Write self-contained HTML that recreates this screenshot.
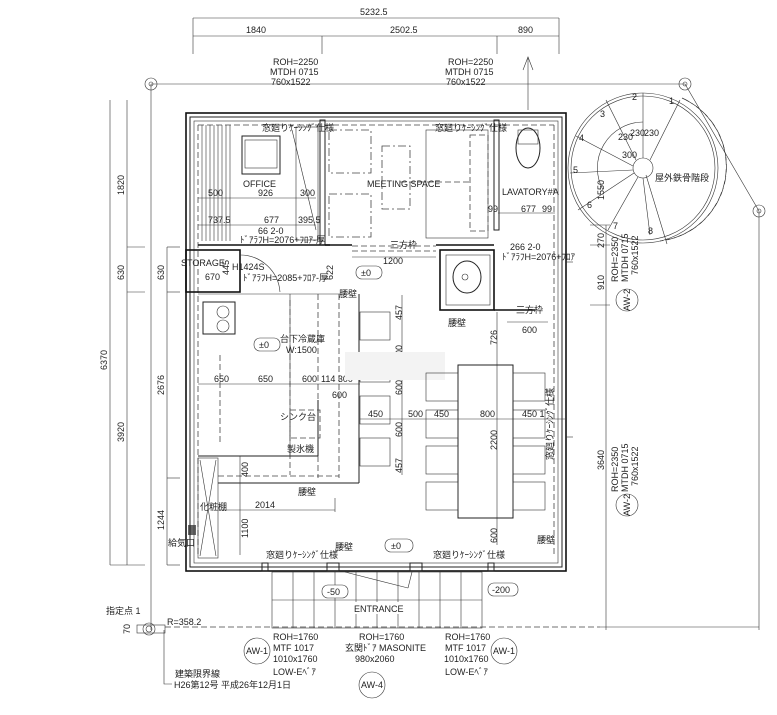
<!DOCTYPE html>
<html><head><meta charset="utf-8"><style>
html,body{margin:0;padding:0;background:#fff;}
svg{display:block;font-family:"Liberation Sans","Noto Sans CJK JP",sans-serif;}
text{fill:#222;font-size:9px;}
.l{stroke:#222;stroke-width:1;fill:none}
.t{stroke:#333;stroke-width:0.6;fill:none}
.w{stroke:#111;stroke-width:1.6;fill:none}
.d{stroke:#444;stroke-width:0.8;fill:none;stroke-dasharray:6 3}
.dd{stroke:#444;stroke-width:0.8;fill:none;stroke-dasharray:8 3 2 3}
</style></head><body>
<svg width="777" height="715" viewBox="0 0 777 715" xmlns="http://www.w3.org/2000/svg">
<!-- top dims -->
<line class="t" x1="193" y1="18" x2="559" y2="18"/>
<line class="t" x1="193" y1="36" x2="559" y2="36"/>
<line class="t" x1="193" y1="18" x2="193" y2="54"/><line class="t" x1="559" y1="18" x2="559" y2="54"/>
<line class="t" x1="322" y1="36" x2="322" y2="54"/><line class="t" x1="497" y1="36" x2="497" y2="54"/>
<text x="360" y="15">5232.5</text>
<text x="246" y="33">1840</text><text x="390" y="33">2502.5</text><text x="518" y="33">890</text>
<text x="273" y="65" font-size="8">ROH=2250</text><text x="270" y="75" font-size="8">MTDH 0715</text><text x="271" y="85" font-size="8">760x1522</text>
<text x="448" y="65" font-size="8">ROH=2250</text><text x="445" y="75" font-size="8">MTDH 0715</text><text x="446" y="85" font-size="8">760x1522</text>
<line class="t" x1="528" y1="57" x2="528" y2="110"/><polyline class="t" points="523,70 528,57 533,70"/>
<!-- property lines -->
<line class="t" x1="151" y1="84" x2="685" y2="84"/>
<line class="t" x1="151" y1="84" x2="151" y2="630"/>
<line class="t" x1="685" y1="84" x2="759" y2="211"/>
<line class="t" x1="759" y1="211" x2="759" y2="630"/>
<circle class="t" cx="151" cy="84" r="6"/><circle class="t" cx="151" cy="84" r="2"/>
<circle class="t" cx="685" cy="84" r="6"/><circle class="t" cx="685" cy="84" r="2"/>
<circle class="t" cx="759" cy="211" r="6"/><circle class="t" cx="759" cy="211" r="2"/>
<!-- left dims -->
<line class="t" x1="110" y1="100" x2="110" y2="565"/><line class="t" x1="127" y1="100" x2="127" y2="565"/>
<line class="t" x1="110" y1="565" x2="145" y2="565"/>
<line class="t" x1="127" y1="247" x2="145" y2="247"/><line class="t" x1="127" y1="292" x2="145" y2="292"/>
<line class="t" x1="167" y1="247" x2="167" y2="565"/>
<line class="t" x1="167" y1="247" x2="180" y2="247"/><line class="t" x1="167" y1="292" x2="180" y2="292"/><line class="t" x1="167" y1="478" x2="180" y2="478"/><line class="t" x1="167" y1="565" x2="180" y2="565"/>
<g font-size="9">
<text transform="translate(124,195) rotate(-90)">1820</text>
<text transform="translate(124,280) rotate(-90)">630</text>
<text transform="translate(124,442) rotate(-90)">3920</text>
<text transform="translate(107,370) rotate(-90)">6370</text>
<text transform="translate(164,280) rotate(-90)">630</text>
<text transform="translate(164,395) rotate(-90)">2676</text>
<text transform="translate(164,530) rotate(-90)">1244</text>
</g>
<text x="168" y="546" font-size="10">給気口</text>
<rect x="188" y="525" width="8" height="10" fill="#666"/>
<!-- outer walls -->
<rect class="w" x="186" y="113" width="380" height="458"/>
<rect class="l" x="190" y="117" width="372" height="450"/>
<rect class="t" x="194" y="121" width="364" height="442"/>
<line class="d" x1="198" y1="125" x2="554" y2="125"/>
<line class="d" x1="198" y1="125" x2="198" y2="555"/>
<line class="d" x1="554" y1="125" x2="554" y2="555"/>
<!-- interior walls -->
<rect class="l" x="320" y="120" width="5" height="125"/>
<rect class="l" x="494" y="120" width="5" height="110"/>
<line class="w" x1="198" y1="245" x2="330" y2="245"/>
<line class="w" x1="325" y1="245" x2="352" y2="245"/>
<line class="w" x1="436" y1="245" x2="494" y2="245"/>
<line class="d" x1="352" y1="246" x2="436" y2="246"/>
<line class="d" x1="352" y1="251" x2="436" y2="251"/>
<!-- office -->
<g class="t">
<line x1="202" y1="125" x2="202" y2="241"/><line x1="206" y1="125" x2="206" y2="241"/><line x1="210" y1="125" x2="210" y2="241"/><line x1="214" y1="125" x2="214" y2="241"/><line x1="218" y1="125" x2="218" y2="241"/><line x1="222" y1="125" x2="222" y2="241"/><line x1="226" y1="125" x2="226" y2="241"/><line x1="230" y1="125" x2="230" y2="241"/>
</g>
<rect class="l" x="242" y="136" width="38" height="38"/><rect class="t" x="245" y="140" width="32" height="28"/>
<text x="243" y="187" font-size="10">OFFICE</text>
<line class="t" x1="292" y1="130" x2="316" y2="230"/><rect class="t" x="296" y="127" width="22" height="113"/>
<line class="t" x1="198" y1="198" x2="316" y2="198"/><line class="t" x1="198" y1="225" x2="316" y2="225"/>
<text x="208" y="196" font-size="8">500</text><text x="258" y="196" font-size="8">926</text><text x="300" y="196" font-size="8">300</text>
<text x="208" y="223" font-size="8">737.5</text><text x="264" y="223" font-size="8">677</text><text x="298" y="223" font-size="8">395.5</text>
<text x="258" y="234" font-size="8">66 2-0</text><text x="240" y="243" font-size="7">ﾄﾞｱﾗﾌH=2076+ﾌﾛｱ-厚</text>
<text x="262" y="131" font-size="7">窓廻りｹｰｼﾝｸﾞ仕様</text>
<!-- meeting -->
<rect class="dd" x="329" y="130" width="42" height="43"/><rect class="dd" x="329" y="194" width="42" height="43"/>
<rect class="dd" x="382" y="146" width="28" height="63"/>
<rect class="t" x="426" y="130" width="62" height="108"/><rect class="d" x="470" y="135" width="18" height="96"/>
<line class="d" x1="400" y1="182" x2="470" y2="182"/>
<text x="367" y="187" font-size="10">MEETING SPACE</text>
<text x="435" y="131" font-size="7">窓廻りｹｰｼﾝｸﾞ仕様</text>
<!-- lavatory -->
<ellipse class="l" cx="528" cy="148" rx="12" ry="20"/><rect class="t" x="518" y="130" width="20" height="14"/>
<text x="502" y="195" font-size="10">LAVATORY#A</text>
<line class="t" x1="498" y1="213" x2="555" y2="213"/>
<text x="488" y="212" font-size="8">99</text><text x="521" y="212" font-size="8">677</text><text x="542" y="212" font-size="8">99</text>
<text x="510" y="250" font-size="8">266 2-0</text><text x="502" y="260" font-size="7">ﾄﾞｱﾗﾌH=2076+ﾌﾛｱ</text>
<!-- washroom -->
<rect class="w" x="440" y="250" width="54" height="60"/>
<rect class="t" x="446" y="255" width="44" height="50"/>
<ellipse class="l" cx="467" cy="277" rx="14" ry="16"/><circle class="t" cx="465" cy="277" r="3"/>
<line class="w" x1="494" y1="310" x2="535" y2="310"/>
<text x="516" y="313" font-size="7">三方枠</text>
<line class="t" x1="507" y1="322" x2="548" y2="322"/><text x="522" y="333" font-size="8">600</text>
<text x="448" y="326" font-size="7">腰壁</text>
<text x="390" y="248" font-size="7">三方枠</text>
<line class="t" x1="352" y1="257" x2="436" y2="257"/><text x="383" y="264" font-size="8">1200</text>
<!-- storage -->
<rect class="w" x="186" y="250" width="54" height="42"/>
<text x="181" y="266" font-size="10">STORAGE</text><text x="205" y="280" font-size="8">670</text>
<text transform="translate(229,275) rotate(-90)" font-size="8">445</text>
<text x="232" y="270" font-size="8">H1424S</text>
<text x="243" y="281" font-size="7">ﾄﾞｱﾗﾌH=2085+ﾌﾛｱ-厚</text>
<path class="t" d="M240 255 A40 40 0 0 1 280 292"/>
<text transform="translate(333,280) rotate(-90)" font-size="8">622</text>
<rect class="t" x="356" y="266" width="26" height="13" rx="6"/><text x="361" y="276" font-size="8">±0</text>
<!-- kitchen -->
<rect class="l" x="203" y="302" width="32" height="32"/>
<circle class="t" cx="223" cy="312" r="6"/><circle class="t" cx="223" cy="326" r="6"/>
<line class="t" x1="198" y1="294" x2="340" y2="294"/>
<line class="t" x1="290" y1="294" x2="290" y2="455"/>
<line class="d" x1="290" y1="300" x2="290" y2="475"/><line class="d" x1="339" y1="294" x2="339" y2="478"/><line class="d" x1="318" y1="294" x2="318" y2="478"/>
<line class="l" x1="359" y1="294" x2="359" y2="483"/>
<line class="l" x1="198" y1="456" x2="318" y2="456"/><line class="l" x1="318" y1="400" x2="318" y2="456"/>
<line class="l" x1="218" y1="483" x2="359" y2="483"/>
<line class="d" x1="218" y1="476" x2="339" y2="476"/>
<line class="d" x1="220" y1="355" x2="220" y2="445"/>
<line class="t" x1="198" y1="384" x2="360" y2="384"/>
<text x="214" y="382" font-size="8">650</text><text x="258" y="382" font-size="8">650</text><text x="302" y="382" font-size="8">600</text><text x="321" y="382" font-size="8">114 300</text>
<text x="332" y="398" font-size="8">600</text>
<rect class="t" x="254" y="338" width="26" height="13" rx="6"/><text x="259" y="348" font-size="8">±0</text>
<text x="280" y="342" font-size="9">台下冷蔵庫</text><text x="286" y="353" font-size="9">W:1500</text>
<rect class="d" x="290" y="410" width="30" height="28"/>
<text x="280" y="420" font-size="10">シンク台</text>
<text x="287" y="452" font-size="9">製氷機</text>
<rect class="t" x="198" y="458" width="20" height="100"/><line class="t" x1="200" y1="460" x2="216" y2="556"/><line class="t" x1="216" y1="460" x2="200" y2="556"/>
<line class="t" x1="240" y1="456" x2="240" y2="555"/>
<text transform="translate(248,477) rotate(-90)" font-size="8">400</text>
<text transform="translate(248,538) rotate(-90)" font-size="8">1100</text>
<line class="t" x1="218" y1="510" x2="335" y2="510"/><line class="t" x1="335" y1="498" x2="335" y2="512"/>
<text x="255" y="508" font-size="8">2014</text><text x="200" y="510" font-size="6">化粧棚</text>
<text x="298" y="495" font-size="7">腰壁</text><text x="339" y="297" font-size="7">腰壁</text>
<!-- counter chairs -->
<rect class="t" x="360" y="312" width="30" height="28"/><rect class="t" x="360" y="354" width="30" height="28"/><rect class="t" x="360" y="396" width="30" height="28"/><rect class="t" x="360" y="438" width="30" height="28"/>
<line class="t" x1="402" y1="295" x2="402" y2="475"/>
<g font-size="8"><text transform="translate(402,320) rotate(-90)">457</text><text transform="translate(402,360) rotate(-90)">600</text><text transform="translate(402,395) rotate(-90)">600</text><text transform="translate(402,437) rotate(-90)">600</text><text transform="translate(402,473) rotate(-90)">457</text></g>
<rect x="345" y="352" width="100" height="28" fill="#f3f3f3"/>
<!-- dining -->
<line class="t" x1="497" y1="312" x2="497" y2="545"/>
<rect class="l" x="458" y="365" width="55" height="153"/>
<rect class="t" x="426" y="373" width="32" height="28"/><rect class="t" x="426" y="410" width="32" height="28"/><rect class="t" x="426" y="446" width="32" height="28"/><rect class="t" x="426" y="482" width="32" height="28"/>
<rect class="t" x="513" y="373" width="32" height="28"/><rect class="t" x="513" y="410" width="32" height="28"/><rect class="t" x="513" y="446" width="32" height="28"/><rect class="t" x="513" y="482" width="32" height="28"/>
<line class="t" x1="360" y1="419" x2="565" y2="419"/>
<text x="368" y="417" font-size="8">450</text><text x="408" y="417" font-size="8">500</text><text x="434" y="417" font-size="8">450</text><text x="480" y="417" font-size="8">800</text><text x="522" y="417" font-size="8">450 1</text>
<g font-size="8"><text transform="translate(497,345) rotate(-90)">726</text><text transform="translate(497,450) rotate(-90)">2200</text><text transform="translate(497,543) rotate(-90)">600</text></g>
<rect class="t" x="385" y="539" width="28" height="13" rx="6"/><text x="391" y="549" font-size="8">±0</text>
<text x="537" y="543" font-size="7">腰壁</text>
<text x="266" y="558" font-size="7">窓廻りｹｰｼﾝｸﾞ仕様</text><text x="335" y="550" font-size="7">腰壁</text>
<text x="433" y="558" font-size="7">窓廻りｹｰｼﾝｸﾞ仕様</text>
<text transform="translate(553,460) rotate(-90)" font-size="6">窓廻りｹｰｼﾝｸﾞ仕様</text>
<!-- bottom windows / entrance -->
<rect class="l" x="262" y="563" width="6" height="8"/><rect class="l" x="327" y="563" width="12" height="8"/><rect class="l" x="410" y="563" width="12" height="8"/><rect class="l" x="488" y="563" width="6" height="8"/>
<g class="t">
<rect x="272" y="572" width="210" height="56"/>
<line x1="272" y1="600" x2="482" y2="600"/>
<line x1="314" y1="572" x2="314" y2="628"/><line x1="356" y1="572" x2="356" y2="628"/><line x1="398" y1="572" x2="398" y2="628"/><line x1="440" y1="572" x2="440" y2="628"/>
<line x1="293" y1="572" x2="293" y2="628"/><line x1="335" y1="572" x2="335" y2="628"/><line x1="377" y1="572" x2="377" y2="628"/><line x1="419" y1="572" x2="419" y2="628"/><line x1="461" y1="572" x2="461" y2="628"/>
<line x1="345" y1="572" x2="408" y2="588"/><line x1="408" y1="588" x2="412" y2="572"/>
</g>
<rect x="322" y="585" width="26" height="13" rx="6" fill="#fff" stroke="#333" stroke-width="0.6"/><text x="327" y="595" font-size="8">-50</text>
<rect x="488" y="583" width="30" height="13" rx="6" fill="#fff" stroke="#333" stroke-width="0.6"/><text x="492" y="593" font-size="8">-200</text>
<rect x="355" y="602" width="44" height="12" fill="#fff"/><text x="354" y="612" font-size="10">ENTRANCE</text>
<line class="d" x1="165" y1="627" x2="600" y2="627"/>
<line class="t" x1="600" y1="627" x2="759" y2="627"/>
<circle class="t" cx="149" cy="629" r="6"/><circle class="t" cx="149" cy="629" r="3"/>
<rect class="t" x="137" y="625" width="28" height="8"/>
<text x="106" y="614" font-size="7">指定点 1</text>
<text transform="translate(130,634) rotate(-90)" font-size="8">70</text>
<text x="167" y="625" font-size="7">R=358.2</text>
<polyline class="t" points="164,630 164,684 172,684"/>
<text x="175" y="677" font-size="9">建築限界線</text>
<text x="174" y="688" font-size="8">H26第12号 平成26年12月1日</text>
<circle class="t" cx="257" cy="651" r="13"/><text x="246" y="654" font-size="8">AW-1</text>
<text x="273" y="640" font-size="8">ROH=1760</text><text x="273" y="651" font-size="8">MTF 1017</text><text x="273" y="662" font-size="8">1010x1760</text><text x="273" y="675" font-size="8">LOW-Eﾍﾞｱ</text>
<text x="359" y="640" font-size="8">ROH=1760</text><text x="345" y="651" font-size="8">玄関ﾄﾞｱ MASONITE</text><text x="355" y="662" font-size="8">980x2060</text>
<circle class="t" cx="372" cy="685" r="13"/><text x="361" y="688" font-size="8">AW-4</text>
<text x="445" y="640" font-size="8">ROH=1760</text><text x="445" y="651" font-size="8">MTF 1017</text><text x="444" y="662" font-size="8">1010x1760</text><text x="445" y="675" font-size="8">LOW-Eﾍﾞｱ</text>
<circle class="t" cx="504" cy="651" r="13"/><text x="493" y="654" font-size="8">AW-1</text>
<!-- right side -->
<line class="t" x1="606" y1="225" x2="606" y2="630"/>
<line class="t" x1="590" y1="225" x2="610" y2="225"/><line class="t" x1="590" y1="245" x2="610" y2="245"/><line class="t" x1="590" y1="305" x2="610" y2="305"/>
<text transform="translate(604,200) rotate(-90)" font-size="9">1550</text>
<text transform="translate(604,248) rotate(-90)" font-size="9">270</text>
<text transform="translate(604,290) rotate(-90)" font-size="9">910</text>
<text transform="translate(604,470) rotate(-90)" font-size="9">3640</text>
<text transform="translate(618,282) rotate(-90)" font-size="8">ROH=2350</text>
<text transform="translate(628,282) rotate(-90)" font-size="8">MTDH 0715</text>
<text transform="translate(638,275) rotate(-90)" font-size="8">760x1522</text>
<circle class="t" cx="627" cy="300" r="11"/><text transform="translate(630,311) rotate(-90)" font-size="8">AW-2</text>
<text transform="translate(618,492) rotate(-90)" font-size="8">ROH=2350</text>
<text transform="translate(628,492) rotate(-90)" font-size="8">MTDH 0715</text>
<text transform="translate(638,486) rotate(-90)" font-size="8">760x1522</text>
<circle class="t" cx="627" cy="505" r="11"/><text transform="translate(630,516) rotate(-90)" font-size="8">AW-2</text>
<line class="t" x1="566" y1="262" x2="573" y2="262"/><line class="t" x1="566" y1="437" x2="573" y2="437"/>
<!-- spiral stair -->
<g class="t">
<circle cx="643" cy="168" r="75"/>
<circle cx="643" cy="168" r="72"/>
<circle cx="643" cy="168" r="10"/>
<path d="M643 168 m0 -46 a46 46 0 0 0 -40 68"/>
<line x1="643" y1="158" x2="643" y2="93"/>
<line x1="650" y1="160" x2="680" y2="100"/>
<line x1="636" y1="160" x2="606" y2="100"/>
<line x1="633" y1="166" x2="576" y2="136"/>
<line x1="633" y1="170" x2="570" y2="173"/>
<line x1="634" y1="173" x2="578" y2="210"/>
<line x1="638" y1="177" x2="608" y2="230"/>
<line x1="643" y1="178" x2="650" y2="235"/>
<line x1="646" y1="175" x2="667" y2="244"/>
</g>
<path d="M686 100 a75 75 0 0 1 -20 140" fill="none" stroke="#333" stroke-width="0.7" stroke-dasharray="8 4"/>
<path d="M682 98 a75 75 0 0 1 -22 143" fill="none" stroke="#333" stroke-width="0.7" stroke-dasharray="8 4"/>
<g font-size="7"><text x="669" y="104">1</text><text x="632" y="100">2</text><text x="600" y="117">3</text><text x="579" y="141">4</text><text x="573" y="173">5</text><text x="587" y="208">6</text><text x="613" y="229">7</text><text x="648" y="234">8</text>
<text x="618" y="140">230</text><text x="630" y="136">230</text><text x="644" y="136">230</text><text x="622" y="158">300</text></g>
<text x="655" y="181" font-size="10">屋外鉄骨階段</text>
</svg>
</body></html>
